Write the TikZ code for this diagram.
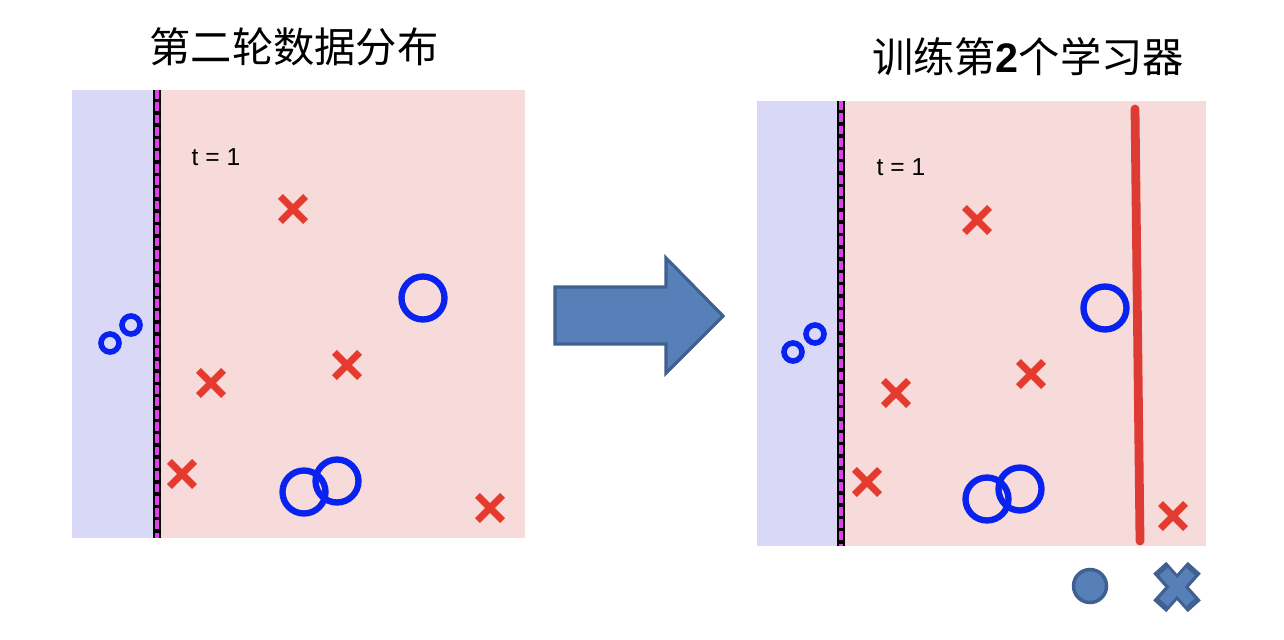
\documentclass[tikz,border=0pt]{standalone}
\usepackage{fontspec}
\setmainfont{Liberation Sans}
\newfontfamily\cjk{Noto Sans CJK SC}
\usetikzlibrary{shapes.misc}
\definecolor{bluebg}{HTML}{D9D9F7}
\definecolor{pinkbg}{HTML}{F7DADA}
\definecolor{xred}{HTML}{E53A2E}
\definecolor{oblue}{HTML}{0A22F0}
\definecolor{magent}{HTML}{E040E8}
\definecolor{lineRed}{HTML}{DD3B33}
\definecolor{arrFill}{HTML}{5880B8}
\definecolor{arrDraw}{HTML}{3F6090}
\tikzset{
  xmark/.style={cross out, draw=xred, line width=4pt, minimum size=0.36cm, inner sep=0pt},
  bigo/.style={circle, draw=oblue, line width=3.6pt, minimum size=0.86cm, inner sep=0pt},
  smallo/.style={circle, draw=oblue, line width=3.2pt, minimum size=0.36cm, inner sep=0pt},
  sepblack/.style={draw=black, line width=4.4pt},
  sepmag/.style={draw=magent, line width=2.4pt, dash pattern=on 5pt off 2pt},
  ttitle/.style={font=\fontsize{23.5}{28}\selectfont\cjk, inner sep=0pt},
  tlabel/.style={font=\fontsize{14}{16}\selectfont, inner sep=0pt},
  legend/.style={fill=arrFill, draw=arrDraw, line width=2pt},
}
\begin{document}
\begin{tikzpicture}[x=0.02cm,y=-0.02cm]
\useasboundingbox (0,0) rectangle (1284,639);
% ---------- left panel ----------
\fill[bluebg] (72,90) rectangle (157,538);
\fill[pinkbg] (157,90) rectangle (525,538);
\coordinate (lsT) at (157,90);
\coordinate (lsB) at (157,538);
\draw[sepblack] (lsT) -- (lsB);
\draw[sepmag] (lsT) -- (lsB);
\node[ttitle] (title1) at (294,47) {第二轮数据分布};
\node[tlabel] (tl1) at (216,157) {t = 1};
\node[xmark] (lx1) at (293,209) {};
\node[xmark] (lx2) at (211,383) {};
\node[xmark] (lx3) at (347,365) {};
\node[xmark] (lx4) at (182,474) {};
\node[xmark] (lx5) at (490,508) {};
\node[smallo] (lo1) at (110,343) {};
\node[smallo] (lo2) at (131,325) {};
\node[bigo] (lo3) at (423,298) {};
\node[bigo] (lo4) at (304,492) {};
\node[bigo] (lo5) at (337,481) {};
% ---------- arrow ----------
\draw[fill=arrFill, draw=arrDraw, line width=1.8pt, line join=miter]
  (555,287) -- (666,287) -- (666,258) -- (723,316) -- (666,373) -- (666,344) -- (555,344) -- cycle;
% ---------- right panel ----------
\fill[bluebg] (757,101) rectangle (841,546);
\fill[pinkbg] (841,101) rectangle (1206,546);
\coordinate (rsT) at (841,101);
\coordinate (rsB) at (841,546);
\draw[sepblack] (rsT) -- (rsB);
\draw[sepmag] (rsT) -- (rsB);
\node[ttitle] (title2) at (1028,57) {训练第{\rmfamily\bfseries 2}个学习器};
\node[tlabel] (tl2) at (901,167) {t = 1};
\node[xmark] (rx1) at (977,220) {};
\node[xmark] (rx2) at (896,393) {};
\node[xmark] (rx3) at (1031,374) {};
\node[xmark] (rx4) at (867,482) {};
\node[xmark] (rx5) at (1173,516) {};
\node[smallo] (ro1) at (793,352) {};
\node[smallo] (ro2) at (815,334) {};
\node[bigo] (ro3) at (1105,308) {};
\node[bigo] (ro4) at (987,499) {};
\node[bigo] (ro5) at (1020,489) {};
\coordinate (redT) at (1135,109);
\coordinate (redB) at (1140,541);
\draw[lineRed, line width=5pt, line cap=round] (redT) -- (redB);
% ---------- legend ----------
\node[circle, legend, minimum size=0.66cm, inner sep=0pt] (legO) at (1090,586) {};
\node[cross out, draw=arrDraw, line width=10pt, minimum width=0.34cm, minimum height=0.42cm, inner sep=0pt] (legX) at (1177,587) {};
\node[cross out, draw=arrFill, line width=6.4pt, minimum width=0.31cm, minimum height=0.39cm, inner sep=0pt] (legXi) at (1177,587) {};
\end{tikzpicture}
\end{document}
